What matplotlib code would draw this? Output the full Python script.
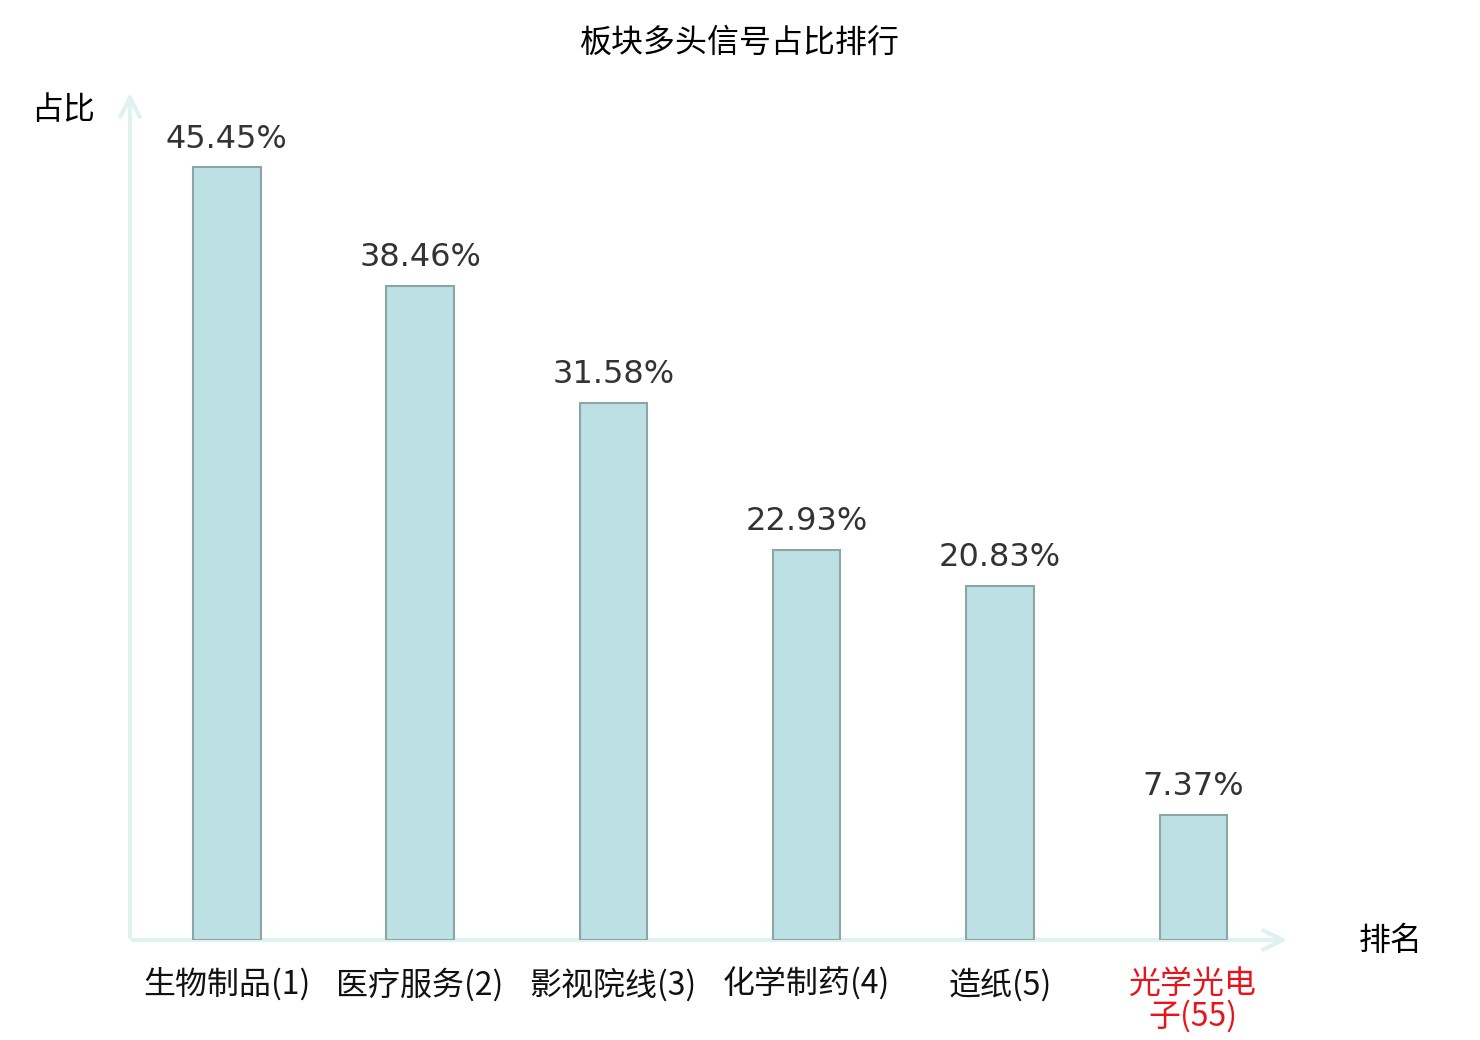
import matplotlib
matplotlib.use("Agg")
import matplotlib.pyplot as plt

plt.rcParams['font.family'] = ['Noto Sans CJK SC', 'DejaVu Sans']

sectors = ["生物制品(1)", "医疗服务(2)", "影视院线(3)", "化学制药(4)", "造纸(5)", "光学光电\n子(55)"]
ratios = [45.45, 38.46, 31.58, 22.93, 20.83, 7.37]
label_colors = ["#111111", "#111111", "#111111", "#111111", "#111111", "#e8141c"]

fig = plt.figure(figsize=(14.8, 10.4), dpi=100)
ax = fig.add_axes([130 / 1480, 100 / 1040, 1160 / 1480, 850 / 1040])

x = list(range(len(sectors)))
bars = ax.bar(x, ratios, width=0.35, color="#bce0e3", edgecolor="#8ca5a6", linewidth=1.5, zorder=3)

for xi, v in zip(x, ratios):
    ax.text(xi, v + 0.75, f"{v:.2f}%", ha="center", va="bottom", fontsize=23,
            family="DejaVu Sans", color="#333333")

ax.set_xlim(-0.5, len(sectors) - 0.5)
ax.set_ylim(0, 50)
for s in ax.spines.values():
    s.set_visible(False)
ax.set_yticks([])
ax.set_xticks(x)
ax.set_xticklabels(sectors, fontsize=23, linespacing=1.0)
for lab, c in zip(ax.get_xticklabels(), label_colors):
    lab.set_color(c)
ax.tick_params(axis="x", length=0, pad=20)

axis_col = "#dff2ef"
ax.annotate("", xy=(1.0, 0), xytext=(0, 0), xycoords="axes fraction",
            arrowprops=dict(arrowstyle="->", color=axis_col, lw=3, mutation_scale=35), zorder=1)
ax.annotate("", xy=(0, 1.0), xytext=(0, 0), xycoords="axes fraction",
            arrowprops=dict(arrowstyle="->", color=axis_col, lw=3, mutation_scale=35), zorder=1)

fig.text(63 / 1480, 1 - 110 / 1040, "占比", ha="center", va="center", fontsize=23)
fig.text(1391 / 1480, 1 - 941 / 1040, "排名", ha="center", va="center", fontsize=23)
fig.text(740 / 1480, 1 - 43 / 1040, "板块多头信号占比排行", ha="center", va="center", fontsize=23)

fig.savefig("out.png", dpi=100)
